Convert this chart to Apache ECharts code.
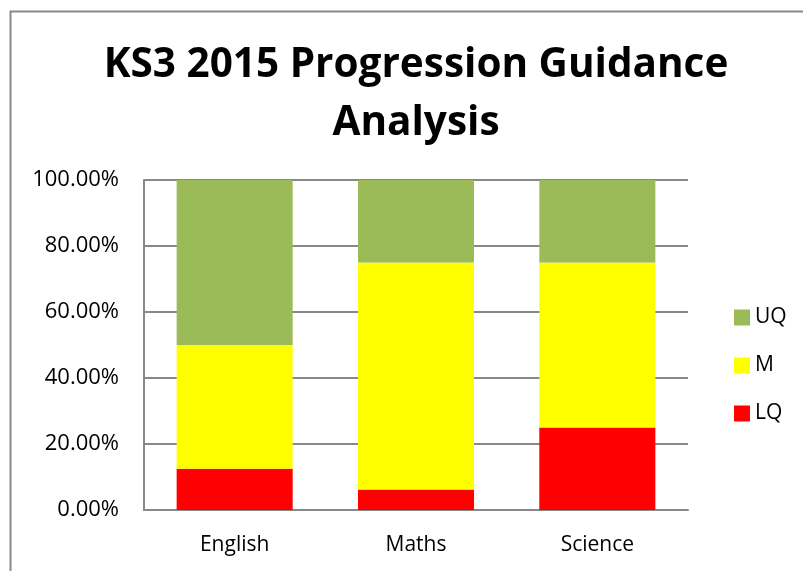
<!DOCTYPE html>
<html>
<head>
<meta charset="utf-8">
<script src="https://cdn.jsdelivr.net/npm/echarts@6/dist/echarts.min.js"></script>
<style>html,body{margin:0;padding:0;background:#fff}#c{width:803px;height:571px}</style>
</head>
<body>
<div id="c"></div>
<script>
const categories = ['English', 'Maths', 'Science'];
const lqValues = [12.5, 6.25, 25];
const mValues = [37.5, 68.75, 50];
const uqValues = [50, 25, 25];
const yTicks = [0, 20, 40, 60, 80, 100];

const chart = echarts.init(document.getElementById('c'));
const font = 'Open Sans, Liberation Sans, sans-serif';
chart.setOption({
  animation: false,
  backgroundColor: '#fff',
  graphic: [{
    type: 'rect', left: 8, top: 9,
    shape: { width: 800, height: 570 },
    style: { fill: 'none', stroke: '#888', lineWidth: 2 }
  }],
  title: {
    text: 'KS3 2015 Progression Guidance\nAnalysis',
    left: 411, top: 31, textAlign: 'center',
    textStyle: { fontFamily: font, fontWeight: 'bold', fontSize: 40.5, lineHeight: 58, color: '#000' }
  },
  legend: {
    orient: 'vertical', left: 729, top: 302,
    data: ['UQ', 'M', 'LQ'],
    itemWidth: 16, itemHeight: 16, itemGap: 27,
    icon: 'rect',
    textStyle: { fontFamily: font, fontSize: 21, color: '#000' }
  },
  grid: { left: 144, right: 115, top: 180, bottom: 61, containLabel: false },
  xAxis: {
    type: 'category', data: categories,
    axisLine: { lineStyle: { color: '#888', width: 2 } },
    axisTick: { show: false },
    axisLabel: { fontFamily: font, fontSize: 21, color: '#000', margin: 25 }
  },
  yAxis: {
    type: 'value', min: 0, max: 100, interval: 20,
    axisLine: { show: true, lineStyle: { color: '#888', width: 2 } },
    axisTick: { show: false },
    splitLine: { lineStyle: { color: '#888', width: 2 } },
    axisLabel: {
      fontFamily: font, fontSize: 22, color: '#000', margin: 25,
      customValues: yTicks,
      formatter: v => v.toFixed(2) + '%'
    }
  },
  series: [
    { name: 'LQ', type: 'bar', stack: 'a', data: lqValues, barWidth: '64%', itemStyle: { color: '#FF0000' } },
    { name: 'M', type: 'bar', stack: 'a', data: mValues, itemStyle: { color: '#FFFF00' } },
    { name: 'UQ', type: 'bar', stack: 'a', data: uqValues, itemStyle: { color: '#9BBB59' } }
  ]
});
</script>
</body>
</html>
